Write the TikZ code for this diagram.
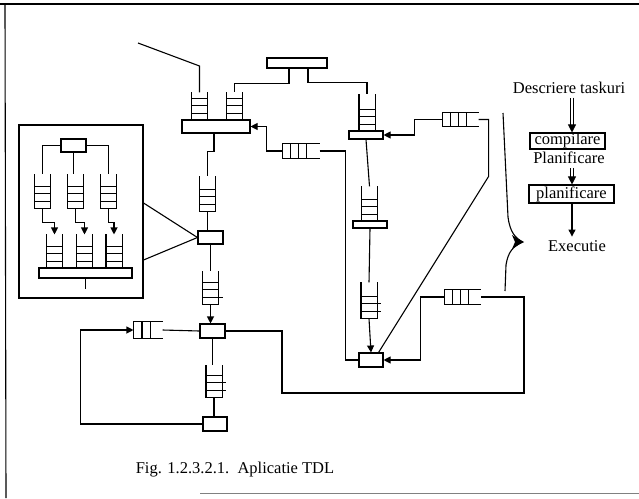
\documentclass[tikz,border=0pt]{standalone}
\usepackage{fontspec}
\setmainfont{Liberation Serif}
\usepackage{tikz}
\usetikzlibrary{arrows.meta}

\tikzset{
  blk/.style={draw,rectangle,inner sep=0pt},
  vq/.style={rectangle,inner sep=0pt,minimum width=15pt,minimum height=33pt},
  hq/.style={rectangle,inner sep=0pt,minimum width=36pt,minimum height=14pt},
  tip/.style={-{Triangle[length=7pt,width=7pt]}},
  dbl/.style={double,double distance=2.5pt,line width=0.8pt,-{Triangle[length=8pt,width=8pt]}},
}

\begin{document}
\begin{tikzpicture}[x=1pt,y=-1pt,line width=1.1pt,every node/.style={font=\fontsize{16.5}{19}\selectfont}]
  \useasboundingbox (0,0) rectangle (639,498);
  % page frame
  \draw[line width=1.3pt] (0,4) -- (639,4);
  \draw (5,4) -- (6,498);
  \draw[gray,line width=0.8pt] (200,493) -- (639,493);

  % blocks
  \node[blk,minimum width=60pt,minimum height=10pt] (tbar) at (297,63) {};
  \node[blk,minimum width=68pt,minimum height=13pt] (bar1) at (216,126.5) {};
  \node[blk,minimum width=34pt,minimum height=8pt] (bar2) at (366,135) {};
  \node[blk,minimum width=34pt,minimum height=7pt] (bar3) at (370,224.5) {};
  \node[blk,minimum width=25pt,minimum height=13pt] (boxA) at (210.5,237.5) {};
  \node[blk,minimum width=25pt,minimum height=14pt] (boxB) at (212.5,331) {};
  \node[blk,minimum width=24pt,minimum height=14pt] (boxC) at (215,424) {};
  \node[blk,minimum width=24pt,minimum height=14pt] (boxD) at (371,360) {};
  % inset
  \node[blk,minimum width=124pt,minimum height=173pt] (inset) at (81,211.5) {};
  \node[blk,minimum width=25pt,minimum height=13pt] (itop) at (73.5,145.5) {};
  \node[blk,minimum width=93pt,minimum height=10pt] (ibar) at (85.5,273) {};

  % queues
  \node[vq,minimum height=27pt] (q1) at (199.5,106.5) {};
  \node[vq,minimum height=27pt] (q2) at (234.5,106.5) {};
  \node[vq,minimum height=36pt] (q3) at (367,113) {};
  \node[vq,minimum height=34pt] (q4) at (369.5,204) {};
  \node[vq,minimum height=35pt] (q5) at (369,300.5) {};
  \node[vq,minimum height=34pt] (q6) at (207.5,194) {};
  \node[vq,minimum height=32pt] (q7) at (210.5,288) {};
  \node[vq,minimum height=31pt] (q8) at (214,381.5) {};
  \node[vq] (i1) at (42.5,191.5) {};
  \node[vq] (i2) at (75.5,191.5) {};
  \node[vq] (i3) at (108.5,191.5) {};
  \node[vq] (j1) at (54.5,251.5) {};
  \node[vq] (j2) at (84.5,251.5) {};
  \node[vq] (j3) at (114,251.5) {};
  \node[hq] (h1) at (301,151) {};
  \node[hq,minimum width=35pt,minimum height=13pt] (h2) at (460.5,119.5) {};
  \node[hq,minimum width=35pt] (h3) at (462.5,297) {};
  \node[hq,minimum width=28pt,minimum height=16pt] (h4) at (148,330) {};

  \foreach \q in {q1,q2,q3,q4,q5,q6,q7,q8,i1,i2,i3,j1,j2,j3}{
    \draw (\q.north west) -- (\q.south west) (\q.north east) -- (\q.south east);
    \foreach \s in {0,7.5,15,22.5}
      \draw ([yshift=\s pt]\q.south west) -- ([yshift=\s pt]\q.south east);
  }
  % rough ticks past the rails
  \foreach \q/\s in {q5/7.5,q5/15,q7/7.5,q8/7.5,q8/15}
    \draw ([yshift=\s pt]\q.south east) -- ++(4,0);
  \foreach \q in {h1,h2,h3}{
    \draw (\q.north west) -- (\q.north east) (\q.south west) -- (\q.south east);
    \foreach \s in {0,8,16,24}
      \draw ([xshift=\s pt]\q.north west) -- ([xshift=\s pt]\q.south west);
  }
  \draw (h4.north west) -- (h4.north east) (h4.south west) -- (h4.south east);
  \foreach \s in {0,8.5,17}
    \draw ([xshift=\s pt]h4.north west) -- ([xshift=\s pt]h4.south west);

  % top part
  \coordinate (feed) at (138,43);
  \coordinate (bend) at (199.5,66);
  \draw (feed) -- (bend) -- (q1.north);
  \draw ([xshift=-8pt]tbar.south) -- ++(0,15) -| (q2.north);
  \draw ([xshift=11pt]tbar.south) -- ++(0,14) -| (q3.north);
  \draw[tip] (h1.west) -- ++(-16,0) |- (bar1.east);
  \draw (h1.east) -- ++(26,0) |- (boxD.west);
  \draw[tip] (h2.west) -- ++(-28,0) |- (bar2.east);
  \draw (h2.east) -- ++(10,0) -- ++(0,57) -- ([xshift=-5pt]boxD.north east);

  % middle column
  \draw (bar2.south) -- (q4.north);
  \draw (bar3.south) -- (q5.north);
  \draw[tip] (q5.south) -- (boxD.north);

  % left column
  \draw ([xshift=-2pt]bar1.south) -- ++(0,18) -| (q6.north);
  \draw (q6.south) -- (q6.south |- boxA.north);
  \draw (boxA.south) -- (boxA.south |- q7.north);
  \draw[tip] (q7.south) -- (q7.south |- boxB.north);
  \draw (boxB.south) -- (boxB.south |- q8.north);
  \draw (q8.south) -- (q8.south |- boxC.north);
  \draw[tip] (boxC.west) -- ++(-122,0) |- (h4.west);
  \draw (boxB.west) -- (h4.east);
  \coordinate (lowl) at (282,393);
  \coordinate (lowr) at (524,393);
  \draw (boxB.east) -| (lowl) -- (lowr) |- (h3.east);
  \draw[tip] (h3.west) -- ++(-24,0) |- (boxD.east);

  % inset
  \draw (itop.west) -| (i1.north);
  \draw (itop.east) -| (i3.north);
  \draw (itop.south) -- (itop.south |- i2.north);
  \draw[tip] (i1.south) -- ++(0,14) -| (j1.north);
  \draw[tip] (i2.south) -- ++(0,14) -| (j2.north);
  \draw[tip] (i3.south) -- ++(0,14) -| (j3.north);
  \draw (ibar.south) -- ++(0,10);
  \draw ([yshift=8.5pt]inset.east) -- (boxA.west);
  \draw ([yshift=-48.5pt]inset.east) -- (boxA.west);

  % right column
  \node (desc) at (569,88) {Descriere taskuri};
  \node[blk,minimum width=75pt,minimum height=14pt,inner sep=0.5pt] (comp) at (567.5,141) {compilare};
  \node (plan) at (569,158) {Planificare};
  \node[blk,minimum width=85pt,minimum height=18pt] (planbox) at (571.5,194) {planificare};
  \node (exec) at (577,246) {Executie};
  \draw[dbl] ([xshift=3pt]desc.south) -- ([xshift=4.5pt]comp.north);
  \draw[dbl] ([xshift=3pt]plan.south) -- ([xshift=0.5pt]planbox.north);
  \draw[tip] ([xshift=0.5pt]planbox.south) -- ([xshift=-5pt]exec.north);

  % bracket
  \coordinate (brtop) at (503,113);
  \coordinate (brtip) at (523,242);
  \coordinate (brbot) at (505,291);
  \draw (brtop) -- (508,217) .. controls (510,232) and (515,238) .. (brtip)
        .. controls (513,246) and (508,252) .. (506,265) -- (brbot);
  \fill (brtip) -- (512,235) -- (515,242) -- (512,249) -- cycle;

  \node (cap) at (235,470) {Fig. 1.2.3.2.1.\ \ Aplicatie TDL};
\end{tikzpicture}
\end{document}
